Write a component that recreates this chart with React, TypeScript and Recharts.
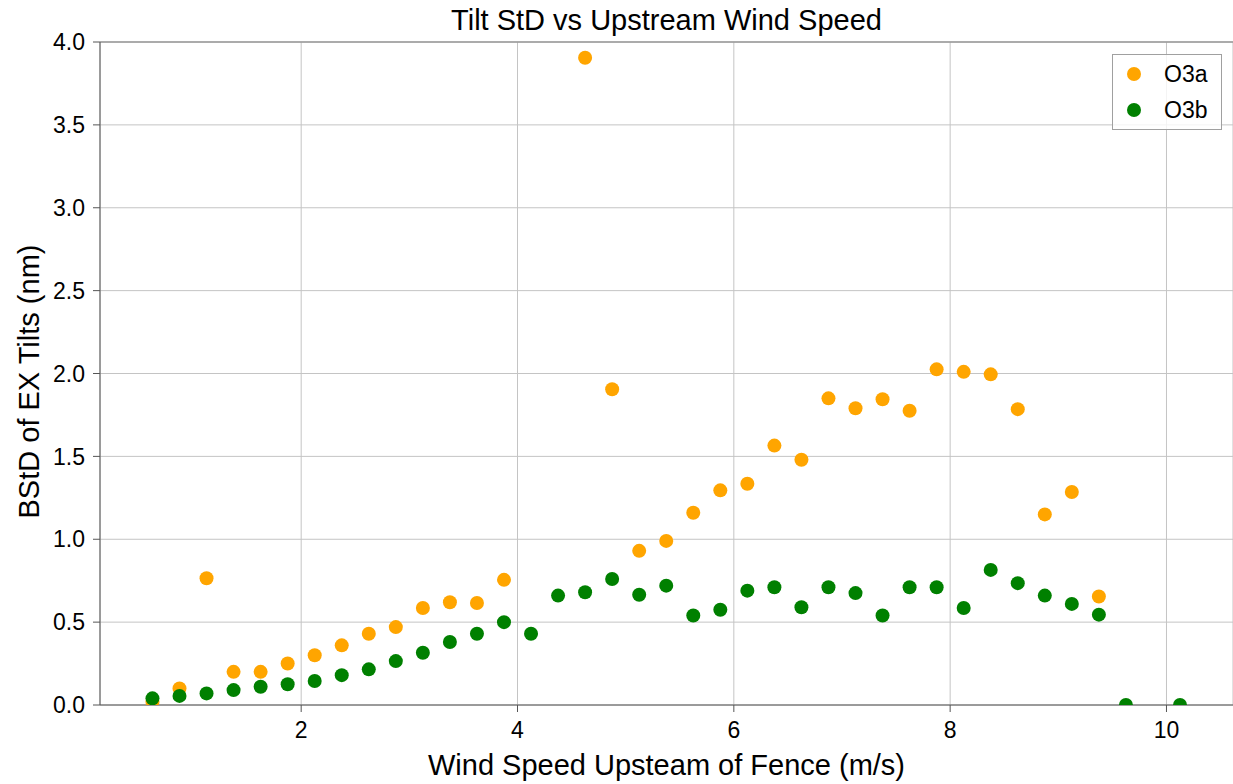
import React from "react";
import { ScatterChart, Scatter, XAxis, YAxis, CartesianGrid, ReferenceLine } from "recharts";

const FONT = "'Liberation Sans', Arial, Helvetica, sans-serif";

const xO3a = [
  0.625, 0.875, 1.125, 1.375, 1.625, 1.875, 2.125, 2.375, 2.625, 2.875, 3.125, 3.375, 3.625, 3.875,
  4.625, 4.875, 5.125, 5.375, 5.625, 5.875, 6.125, 6.375, 6.625, 6.875, 7.125, 7.375, 7.625, 7.875,
  8.125, 8.375, 8.625, 8.875, 9.125, 9.375,
];
const yO3a = [
  0.02, 0.1, 0.765, 0.2, 0.2, 0.25, 0.3, 0.36, 0.43, 0.47, 0.585, 0.62, 0.615, 0.755,
  3.905, 1.905, 0.93, 0.99, 1.16, 1.295, 1.335, 1.565, 1.48, 1.85, 1.79, 1.845, 1.775, 2.025,
  2.01, 1.995, 1.785, 1.15, 1.285, 0.655,
];

const xO3b = [
  0.625, 0.875, 1.125, 1.375, 1.625, 1.875, 2.125, 2.375, 2.625, 2.875, 3.125, 3.375, 3.625, 3.875,
  4.125, 4.375, 4.625, 4.875, 5.125, 5.375, 5.625, 5.875, 6.125, 6.375, 6.625, 6.875, 7.125, 7.375,
  7.625, 7.875, 8.125, 8.375, 8.625, 8.875, 9.125, 9.375, 9.625, 10.125,
];
const yO3b = [
  0.04, 0.055, 0.07, 0.09, 0.11, 0.125, 0.145, 0.18, 0.215, 0.265, 0.315, 0.38, 0.43, 0.5,
  0.43, 0.66, 0.68, 0.76, 0.665, 0.72, 0.54, 0.575, 0.69, 0.71, 0.59, 0.71, 0.675, 0.54,
  0.71, 0.71, 0.585, 0.815, 0.735, 0.66, 0.61, 0.545, 0.0, 0.0,
];

const xTicks = [2, 4, 6, 8, 10];
const yTicks = [0, 0.5, 1, 1.5, 2, 2.5, 3, 3.5, 4];

const O3A_COLOR = "#FFA500";
const O3B_COLOR = "#008000";
const R = 7;

const dataO3a = xO3a.map((x, i) => ({ x, y: yO3a[i] }));
const dataO3b = xO3b.map((x, i) => ({ x, y: yO3b[i] }));

// y=0 점은 축 아래가 잘려 반원으로 보임
const Dot = (props: any) => {
  const { cx, cy, fill, payload } = props;
  if (payload && payload.y <= 0) {
    return <path d={`M${cx - R},${cy}A${R},${R} 0 0 1 ${cx + R},${cy}Z`} fill={fill} />;
  }
  return <circle cx={cx} cy={cy} r={R} fill={fill} />;
};

const XLabel = (props: any) => {
  const { viewBox } = props;
  return (
    <text
      x={viewBox.x + viewBox.width / 2}
      y={viewBox.y + 60}
      textAnchor="middle"
      dominantBaseline="central"
      fontSize={29}
      fontFamily={FONT}
      fill="#000"
    >
      Wind Speed Upsteam of Fence (m/s)
    </text>
  );
};

const YLabel = (props: any) => {
  const { viewBox } = props;
  const cx = viewBox.x + 29;
  const cy = viewBox.y + viewBox.height / 2 + 8;
  return (
    <text
      transform={`translate(${cx},${cy}) rotate(-90)`}
      textAnchor="middle"
      dominantBaseline="central"
      fontSize={29}
      fontFamily={FONT}
      fill="#000"
    >
      BStD of EX Tilts (nm)
    </text>
  );
};

const legendItems = [
  { name: "O3a", color: O3A_COLOR },
  { name: "O3b", color: O3B_COLOR },
];

export default function App() {
  return (
    <div style={{ position: "absolute", left: 0, top: 0, width: 1233, height: 784, background: "#fff" }}>
      <div
        style={{
          position: "absolute",
          top: 3,
          left: 100,
          width: 1133,
          textAlign: "center",
          fontFamily: FONT,
          fontSize: 29,
          lineHeight: "34px",
          color: "#000",
        }}
      >
        Tilt StD vs Upstream Wind Speed
      </div>
      <ScatterChart width={1233} height={784} margin={{ top: 42, right: 0, bottom: 49, left: 0 }}>
        <CartesianGrid stroke="#c4c4c4" strokeWidth={1} />
        <XAxis
          type="number"
          dataKey="x"
          domain={[0.14, 10.615]}
          ticks={xTicks}
          allowDataOverflow
          height={30}
          stroke="#555"
          tickSize={7}
          tickMargin={10}
          fontSize={23}
          fontFamily={FONT}
          tick={{ fill: "#000", fontSize: 23 }}
          label={<XLabel />}
        />
        <YAxis
          type="number"
          dataKey="y"
          domain={[0, 4]}
          ticks={yTicks}
          allowDataOverflow
          width={100}
          stroke="#555"
          tickSize={7}
          tickMargin={8}
          fontSize={23}
          fontFamily={FONT}
          tickFormatter={(v: number) => v.toFixed(1)}
          tick={{ fill: "#000", fontSize: 23 }}
          label={<YLabel />}
        />
        <ReferenceLine y={4} stroke="#999" strokeWidth={1.5} />
        <Scatter name="O3a" data={dataO3a} fill={O3A_COLOR} shape={Dot} isAnimationActive={false} />
        <Scatter name="O3b" data={dataO3b} fill={O3B_COLOR} shape={Dot} isAnimationActive={false} />
      </ScatterChart>
      <div
        style={{
          position: "absolute",
          top: 54,
          left: 1112,
          width: 110,
          height: 76,
          boxSizing: "border-box",
          border: "1.5px solid #a0a0a0",
          background: "rgba(255,255,255,0.8)",
          paddingTop: 1,
          fontFamily: FONT,
          fontSize: 23,
          color: "#000",
        }}
      >
        {legendItems.map((d) => (
          <div key={d.name} style={{ display: "flex", alignItems: "center", height: 36 }}>
            <span
              style={{
                display: "inline-block",
                width: 14,
                height: 14,
                borderRadius: "50%",
                background: d.color,
                marginLeft: 14,
                marginRight: 23,
              }}
            />
            {d.name}
          </div>
        ))}
      </div>
    </div>
  );
}
